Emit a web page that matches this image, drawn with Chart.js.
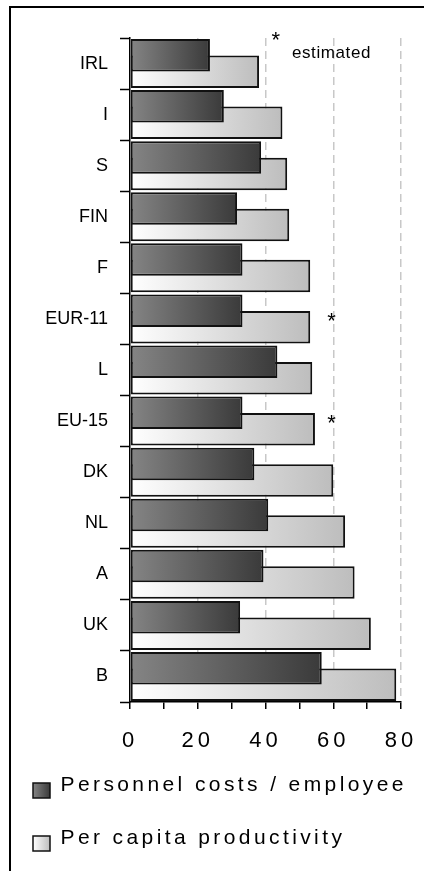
<!DOCTYPE html>
<html>
<head>
<meta charset="utf-8">
<script src="https://cdn.jsdelivr.net/npm/chart.js@4"></script>
<style>
  html, body { margin: 0; padding: 0; background: #fff; overflow: hidden; }
  #wrap { position: relative; width: 424px; height: 871px; overflow: hidden; }
  #frame { position: absolute; left: 9px; top: 6px; width: 440px; height: 900px; border: 2px solid #000; }
  #chart { position: absolute; left: 0; top: 0; display: block; }
</style>
</head>
<body>
<div id="wrap">
  <div id="frame"></div>
  <canvas id="chart" width="424" height="871"></canvas>
</div>
<script>
const categories = ["IRL", "I", "S", "FIN", "F", "EUR-11", "L", "EU-15", "DK", "NL", "A", "UK", "B"];
const personnelCosts = [23.6, 27.7, 38.7, 31.6, 33.2, 33.2, 43.5, 33.2, 36.7, 40.8, 39.4, 32.5, 56.6];
const productivity = [38.1, 45.0, 46.4, 47.0, 53.2, 53.2, 53.8, 54.6, 60.0, 63.5, 66.3, 71.1, 78.6];
const seriesNames = ["Personnel costs / employee", "Per capita productivity"];
const estimatedRows = ["EUR-11", "EU-15"];
const xMin = 0, xMax = 80, xStep = 10, xLabelStep = 20;

const FONT = '"Liberation Sans", Arial, sans-serif';

// gradient colours (left -> right)
const darkStops = ["#858585", "#3a3a3a"];
const lightStops = ["#ffffff", "#bdbdbd"];

function barGradient(stops) {
  return (c) => {
    const chart = c.chart;
    const x = chart.scales && chart.scales.x;
    if (!x || typeof c.raw !== "number") return stops[1];
    const x0 = x.getPixelForValue(0);
    const x1 = x.getPixelForValue(c.raw);
    if (!Number.isFinite(x0) || !Number.isFinite(x1) || x1 === x0) return stops[1];
    const g = chart.ctx.createLinearGradient(x0, 0, x1, 0);
    g.addColorStop(0, stops[0]);
    g.addColorStop(1, stops[1]);
    return g;
  };
}

// wrap a draw method so it uses letter spacing
function spaced(obj, method, px) {
  if (!obj || obj["_sp_" + method]) return;
  const orig = obj[method];
  obj[method] = function (...args) {
    const ctx = this.ctx;
    const prev = ctx.letterSpacing;
    ctx.letterSpacing = px;
    const r = orig.apply(this, args);
    ctx.letterSpacing = prev;
    return r;
  };
  obj["_sp_" + method] = true;
}

const spacingPlugin = {
  id: "spacing",
  afterLayout(chart) {
    spaced(chart.scales.x, "drawLabels", "4px");
    spaced(chart.legend, "draw", "3.4px");
  }
};

// legend boxes drawn by hand so they can sit a bit lower than text
const legendBoxPlugin = {
  id: "legendBoxes",
  afterDraw(chart) {
    const lg = chart.legend;
    if (!lg || !lg.legendHitBoxes) return;
    const ctx = chart.ctx;
    const all = [darkStops, lightStops];
    lg.legendHitBoxes.forEach((hb, i) => {
      const bx = hb.left, by = hb.top + 16, bw = 17, bh = 15;
      const g = ctx.createLinearGradient(bx, 0, bx + bw, 0);
      g.addColorStop(0, all[i][0]);
      g.addColorStop(1, all[i][1]);
      ctx.save();
      ctx.fillStyle = g;
      ctx.fillRect(bx, by, bw, bh);
      ctx.lineWidth = 1.5;
      ctx.strokeStyle = "#111";
      ctx.strokeRect(bx, by, bw, bh);
      ctx.restore();
    });
  }
};

// asterisks + "estimated" note
const notesPlugin = {
  id: "notes",
  afterDatasetsDraw(chart) {
    const { ctx, scales: { x, y }, chartArea } = chart;
    ctx.save();
    ctx.fillStyle = "#000";
    ctx.font = "22px " + FONT;
    ctx.textAlign = "center";
    estimatedRows.forEach((name) => {
      const i = categories.indexOf(name);
      ctx.fillText("*", x.getPixelForValue(59.5), y.getPixelForValue(i) + 3);
    });
    ctx.textAlign = "left";
    ctx.fillText("*", x.getPixelForValue(41.8), chartArea.top + 3);
    ctx.font = "17px " + FONT;
    ctx.letterSpacing = "0.6px";
    ctx.fillText("estimated", x.getPixelForValue(47.8), chartArea.top + 15);
    ctx.restore();
  }
};

Chart.defaults.color = "#000";
Chart.defaults.font.family = FONT;

const chart = new Chart(document.getElementById("chart"), {
  type: "bar",
  data: {
    labels: categories,
    datasets: [
      {
        label: seriesNames[0],
        data: personnelCosts,
        backgroundColor: barGradient(darkStops),
        borderColor: "#111",
        borderWidth: 2,
        borderSkipped: false
      },
      {
        label: seriesNames[1],
        data: productivity,
        backgroundColor: barGradient(lightStops),
        borderColor: "#111",
        borderWidth: 2,
        borderSkipped: false
      }
    ]
  },
  options: {
    indexAxis: "y",
    responsive: false,
    animation: false,
    devicePixelRatio: 1,
    categoryPercentage: 0.646,
    barPercentage: 1.97,
    layout: { padding: { top: 38, right: 0, left: 16, bottom: 5 } },
    plugins: {
      tooltip: { enabled: false },
      legend: {
        position: "bottom",
        align: "start",
        labels: {
          font: { size: 21, family: FONT },
          color: "#000",
          boxWidth: 17,
          boxHeight: 36,
          padding: 17,
          generateLabels(ch) {
            const items = Chart.defaults.plugins.legend.labels.generateLabels(ch);
            items.forEach((it) => {
              it.fillStyle = "rgba(0,0,0,0)";
              it.strokeStyle = "rgba(0,0,0,0)";
              it.lineWidth = 0;
            });
            return items;
          }
        }
      }
    },
    scales: {
      x: {
        min: xMin,
        max: xMax,
        afterFit(scale) {
          scale.height = 48;
          scale.paddingLeft = 0;
          scale.paddingRight = 23;
        },
        ticks: {
          stepSize: xStep,
          autoSkip: false,
          maxRotation: 0,
          padding: 19,
          font: { size: 22, family: FONT },
          color: "#000",
          callback: (v) => (v % xLabelStep === 0 ? String(v) : "")
        },
        grid: {
          color: (c) => (c.tick && c.tick.value > 0 && c.tick.value % xLabelStep === 0 ? "#c8c8c8" : "rgba(0,0,0,0)"),
          lineWidth: 1.5,
          tickColor: "#000",
          tickWidth: 1.5,
          tickLength: 7
        },
        border: { color: "#000", width: 1.5, dash: [8, 5] }
      },
      y: {
        afterFit(scale) { scale.width = 114; },
        ticks: {
          padding: 12,
          font: { size: 18, family: FONT },
          color: "#000"
        },
        grid: {
          offset: true,
          drawOnChartArea: false,
          tickColor: "#000",
          tickWidth: 1.5,
          tickLength: 10
        },
        border: { color: "#000", width: 1.5 }
      }
    }
  },
  plugins: [spacingPlugin, legendBoxPlugin, notesPlugin]
});
chart.draw();
</script>
</body>
</html>
